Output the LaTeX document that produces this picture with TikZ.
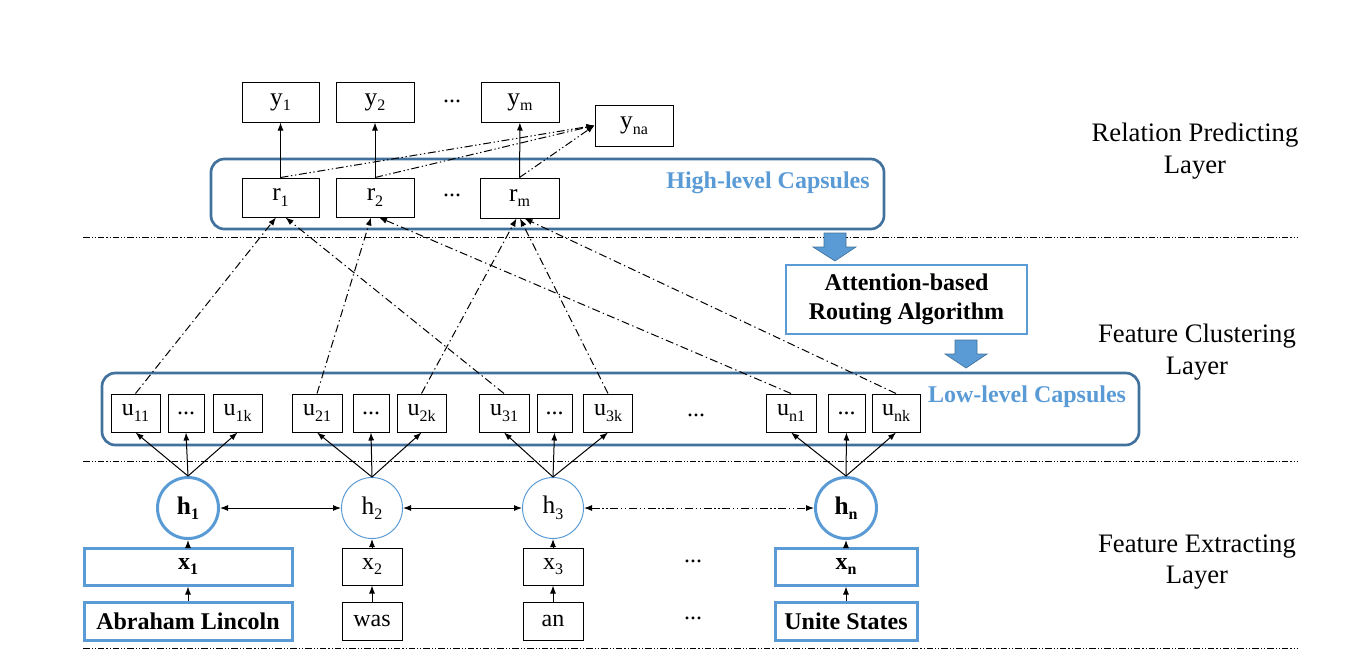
\documentclass[tikz,border=0pt]{standalone}
\usepackage{fontspec}
\setmainfont{Liberation Serif}
\usetikzlibrary{arrows.meta,calc}
\definecolor{capblue}{RGB}{65,113,156}
\definecolor{lblue}{RGB}{91,155,213}
\newlength\pxu
\setlength\pxu{0.75pt}
\newcommand\lsub[1]{\raisebox{-0.22em}{\fontsize{12}{12}\selectfont #1}}
\tikzset{
  tbox/.style={draw=black, line width=0.75pt, inner sep=0pt, font=\fontsize{19}{22}\selectfont},
  ubox/.style={draw=black, line width=0.75pt, inner sep=0pt, minimum height=38\pxu, font=\fontsize{18}{22}\selectfont},
  wbox/.style={draw=black, line width=0.75pt, inner sep=0pt, minimum height=37\pxu, font=\fontsize{18}{22}\selectfont},
  bbox/.style={draw=lblue, line width=2.25pt, inner sep=0pt, minimum height=37\pxu, font=\bfseries\fontsize{18}{22}\selectfont},
  capsbox/.style={draw=capblue, line width=2pt, rounded corners=10pt, inner sep=0pt},
  caplabel/.style={text=lblue, font=\bfseries\fontsize{18}{22}\selectfont},
  hthin/.style={circle, draw=lblue, line width=0.75pt, minimum size=61\pxu, inner sep=0pt, font=\fontsize{19}{22}\selectfont},
  hthick/.style={circle, draw=lblue, line width=2.25pt, minimum size=61\pxu, inner sep=0pt, font=\bfseries\fontsize{19}{22}\selectfont},
  dots/.style={font=\fontsize{18}{22}\selectfont},
  layerlabel/.style={align=center, font=\fontsize{20}{23.5}\selectfont},
  conn/.style={line width=0.75pt, -{Latex[length=6pt,width=4.5pt]}},
  biconn/.style={line width=0.75pt, {Latex[length=6pt,width=4.5pt]}-{Latex[length=6pt,width=4.5pt]}},
  dashdot/.style={dash pattern=on 6pt off 2.5pt on 1pt off 2.5pt},
  dashdotdot/.style={dash pattern=on 6pt off 2pt on 1pt off 2pt on 1pt off 2pt},
  sepline/.style={line width=0.6pt, dash pattern=on 5pt off 1.5pt on 0.8pt off 1.5pt on 0.8pt off 1.5pt},
  blockarrow/.style={fill=lblue, draw=capblue, line width=0.5pt},
}
\begin{document}
\begin{tikzpicture}[x=0.75pt,y=-0.75pt]
\useasboundingbox (0,0) rectangle (1355,668);

% separators
\coordinate (s1a) at (83,237);  \coordinate (s1b) at (1297,237);
\coordinate (s2a) at (83,461);  \coordinate (s2b) at (1297,461);
\coordinate (s3a) at (83,648);  \coordinate (s3b) at (1297,648);
\draw[sepline] (s1a) -- (s1b);
\draw[sepline] (s2a) -- (s2b);
\draw[sepline] (s3a) -- (s3b);

% layer labels
\node[layerlabel] (lrel) at (1195,151) {Relation Predicting\\Layer};
\node[layerlabel] (lclu) at (1197,352) {Feature Clustering\\Layer};
\node[layerlabel] (lext) at (1197,562) {Feature Extracting\\Layer};

% capsule containers
\node[capsbox, minimum width=673\pxu, minimum height=70\pxu] (hicaps) at (547.5,194) {};
\node[caplabel] (hilab) at (768,183) {High-level Capsules};
\node[capsbox, minimum width=1037\pxu, minimum height=72\pxu] (locaps) at (620.5,409) {};
\node[caplabel] (lolab) at (1027,397) {Low-level Capsules};

% output boxes
\node[tbox, minimum width=77\pxu, minimum height=40\pxu] (y1) at (280.5,102) {y\lsub{1}};
\node[tbox, minimum width=78\pxu, minimum height=40\pxu] (y2) at (375,102) {y\lsub{2}};
\node[dots] (ydots) at (452,101) {...};
\node[tbox, minimum width=78\pxu, minimum height=40\pxu] (ym) at (520,102) {y\lsub{m}};
\node[tbox, minimum width=78\pxu, minimum height=41\pxu] (yna) at (634,125.5) {y\lsub{na}};

% high-level capsules
\node[tbox, minimum width=77\pxu, minimum height=39\pxu] (r1) at (280.5,197.5) {r\lsub{1}};
\node[tbox, minimum width=78\pxu, minimum height=39\pxu] (r2) at (375,197.5) {r\lsub{2}};
\node[dots] (rdots) at (452,195) {...};
\node[tbox, minimum width=79\pxu, minimum height=40\pxu] (rm) at (519.5,198) {r\lsub{m}};

% routing box
\node[draw=lblue, line width=1.5pt, minimum width=241\pxu, minimum height=69\pxu, inner sep=0pt, align=center,
      font=\bfseries\fontsize{18}{21.5}\selectfont] (attn) at (906.5,299.5) {Attention-based\\Routing Algorithm};

% block arrows
\draw[blockarrow] (824,233) -- (846,233) -- (846,247) -- (856,247) -- (835,261) -- (813,247) -- (824,247) -- cycle;
\draw[blockarrow] (955,340) -- (977,340) -- (977,354) -- (987,354) -- (966,368) -- (945,354) -- (955,354) -- cycle;

% low-level capsules
\node[ubox, minimum width=49\pxu] (u11) at (135.5,413) {u\lsub{11}};
\node[ubox, minimum width=36\pxu] (d1)  at (186,413) {...};
\node[ubox, minimum width=49\pxu] (u1k) at (237.5,413) {u\lsub{1k}};
\node[ubox, minimum width=50\pxu] (u21) at (317,413) {u\lsub{21}};
\node[ubox, minimum width=36\pxu] (d2)  at (371,413) {...};
\node[ubox, minimum width=49\pxu] (u2k) at (421.5,413) {u\lsub{2k}};
\node[ubox, minimum width=50\pxu] (u31) at (504,413) {u\lsub{31}};
\node[ubox, minimum width=35\pxu] (d3)  at (554.5,413) {...};
\node[ubox, minimum width=48.5\pxu] (u3k) at (608,413) {u\lsub{3k}};
\node[dots] (udots) at (696,415) {...};
\node[ubox, minimum width=50\pxu] (un1) at (791,413) {u\lsub{n1}};
\node[ubox, minimum width=37\pxu] (dn)  at (846.5,413) {...};
\node[ubox, minimum width=48\pxu] (unk) at (896,413) {u\lsub{nk}};

% hidden states
\node[hthick] (h1) at (188,508) {h\lsub{1}};
\node[hthin]  (h2) at (372,508) {h\lsub{2}};
\node[hthin]  (h3) at (553,508) {h\lsub{3}};
\node[hthick] (hn) at (846,508) {h\lsub{n}};

% embeddings
\node[bbox, minimum width=208\pxu] (x1) at (188,566.5) {x\lsub{1}};
\node[wbox, minimum width=60\pxu] (x2) at (372,566.5) {x\lsub{2}};
\node[wbox, minimum width=60\pxu] (x3) at (553,566.5) {x\lsub{3}};
\node[dots] (xdots) at (693,561) {...};
\node[bbox, minimum width=142\pxu] (xn) at (846,566.5) {x\lsub{n}};

% words
\node[bbox, minimum height=38\pxu, minimum width=208\pxu] (w1) at (188,621) {Abraham Lincoln};
\node[wbox, minimum height=38\pxu, minimum width=60\pxu] (w2) at (372,621) {was};
\node[wbox, minimum height=38\pxu, minimum width=60\pxu] (w3) at (553,621) {an};
\node[dots] (wdots) at (693,618) {...};
\node[bbox, minimum height=38\pxu, minimum width=142\pxu] (wn) at (846,621) {Unite States};

% words -> embeddings -> hidden
\foreach \a/\b in {w1/x1,w2/x2,w3/x3,wn/xn,x1/h1,x2/h2,x3/h3,xn/hn}
  \draw[conn] (\a.north) -- (\b.south);

% hidden <-> hidden
\draw[biconn] (h1) -- (h2);
\draw[biconn] (h2) -- (h3);
\draw[biconn, dashdotdot] (h3) -- (hn);

% hidden -> low-level capsules
\foreach \h/\a/\b/\c in {h1/u11/d1/u1k, h2/u21/d2/u2k, h3/u31/d3/u3k, hn/un1/dn/unk}{
  \draw[conn] (\h.north) -- (\a.south);
  \draw[conn] (\h.north) -- (\b.south);
  \draw[conn] (\h.north) -- (\c.south);
}

% low-level -> high-level routing
\draw[conn, dashdot] (u11.north) -- ([xshift=-4.5\pxu]r1.south);
\draw[conn, dashdot] (u31.north) -- ([xshift=5\pxu]r1.south);
\draw[conn, dashdot] (u21.north) -- ([xshift=-4\pxu]r2.south);
\draw[conn, dashdot] (un1.north) -- ([xshift=4\pxu]r2.south);
\draw[conn, dashdot] (u2k.north) -- ([xshift=-3\pxu]rm.south);
\draw[conn, dashdot] (u3k.north) -- ([xshift=0.5\pxu]rm.south);
\draw[conn, dashdot] (unk.north) -- ([xshift=5\pxu]rm.south);

% high-level -> outputs
\draw[conn] (r1) -- (y1);
\draw[conn] (r2) -- (y2);
\draw[conn] (rm) -- (ym);
\draw[conn, dashdotdot] (r1.north) -- (yna.west);
\draw[conn, dashdotdot] (r2.north) -- (yna.west);
\draw[conn, dashdotdot] (rm.north) -- (yna.west);
\end{tikzpicture}
\end{document}
